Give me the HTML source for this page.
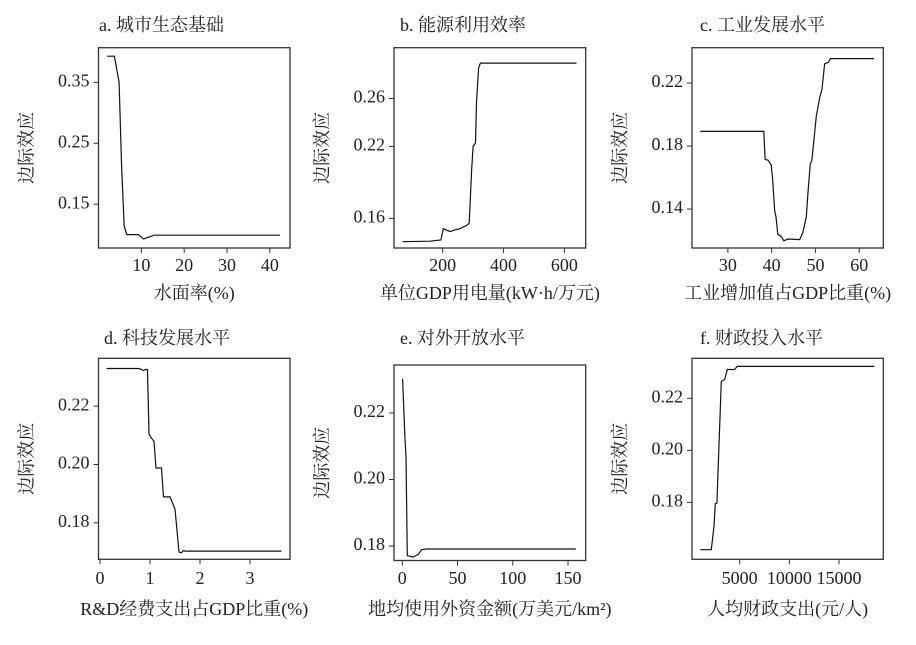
<!DOCTYPE html>
<html><head><meta charset="utf-8"><style>
body{margin:0;background:#fff;width:916px;height:640px;overflow:hidden}
svg text{font-family:"Liberation Serif","Noto Serif CJK SC",serif;fill:#222}
</style></head><body>
<svg id="chart" width="916" height="640" viewBox="0 0 916 640" xmlns="http://www.w3.org/2000/svg"></svg>
<script>
// Panel a
const aX=[2.0,3.7,4.3,4.8,5.4,6.0,6.6,8,9.3,10.5,13,42.4];
const aY=[0.393,0.393,0.37,0.35,0.212,0.114,0.100,0.100,0.100,0.093,0.099,0.099];
const aXTicks=[10,20,30,40];
const aYTicks=[0.15,0.25,0.35];
// Panel b
const bX=[68,158,194,202,224,246,250,278,287,295,300,308,311,318,324,640];
const bY=[0.1406,0.141,0.142,0.1514,0.149,0.151,0.1508,0.154,0.156,0.2,0.22,0.223,0.2567,0.2853,0.2895,0.2895];
const bXTicks=[200,400,600];
const bYTicks=[0.16,0.22,0.26];
// Panel c
const cX=[23.7,38.2,38.5,39.15,39.9,40.2,40.7,41,41.4,42.2,42.8,43.7,46.4,47.1,47.9,48.3,48.8,49.2,50.2,51.0,51.5,52.1,53.0,53.4,63.4];
const cY=[0.1893,0.1893,0.1715,0.171,0.168,0.16,0.1388,0.135,0.1239,0.1226,0.1199,0.121,0.1206,0.125,0.135,0.1507,0.1683,0.171,0.199,0.211,0.216,0.2321,0.2332,0.2355,0.2355];
const cXTicks=[30,40,50,60];
const cYTicks=[0.14,0.18,0.22];
// Panel d
const dX=[0.13,0.77,0.83,0.87,0.91,0.95,0.98,1.03,1.08,1.12,1.23,1.27,1.4,1.5,1.58,1.62,1.67,1.7,3.63];
const dY=[0.2329,0.2329,0.2326,0.2322,0.2326,0.2325,0.2104,0.209,0.208,0.1988,0.1988,0.1889,0.1889,0.1847,0.170,0.1697,0.1705,0.1703,0.1703];
const dXTicks=[0,1,2,3];
const dYTicks=[0.18,0.20,0.22];
// Panel e
const eX=[0.3,2.4,3.4,4.5,10,14.5,17.5,22,157];
const eY=[0.2303,0.2128,0.2068,0.1771,0.1767,0.1775,0.1789,0.1791,0.1791];
const eXTicks=[0,50,100,150];
const eYTicks=[0.18,0.20,0.22];
// Panel f
const fX=[1040,2140,2410,2550,2710,3150,3480,3750,4490,4760,18560];
const fY=[0.1618,0.1618,0.1708,0.1795,0.1797,0.2265,0.2272,0.2311,0.2311,0.2323,0.2323];
const fXTicks=[5000,10000,15000];
const fYTicks=[0.18,0.20,0.22];

const NS="http://www.w3.org/2000/svg";
const svg=document.getElementById('chart');
function mk(tag,attrs,parent){const e=document.createElementNS(NS,tag);for(const k in attrs)e.setAttribute(k,attrs[k]);(parent||svg).appendChild(e);return e;}

const panels=[
 {id:'a',title:'a. 城市生态基础',xl:'水面率(%)',x0:98.5,x1:290,y0:47.7,y1:248,dx:[0,44.7],dy:[0.078,0.407],xs:aX,ys:aY,xt:aXTicks,yt:aYTicks,yf:2,tx:99,ty:27,xty:267,xly:295},
 {id:'b',title:'b. 能源利用效率',xl:'单位GDP用电量(kW·h/万元)',x0:394,x1:585.7,y0:47.7,y1:248,dx:[40,670],dy:[0.13535,0.30235],xs:bX,ys:bY,xt:bXTicks,yt:bYTicks,yf:2,tx:400,ty:27,xty:267,xly:295},
 {id:'c',title:'c. 工业发展水平',xl:'工业增加值占GDP比重(%)',x0:692,x1:883.3,y0:47.7,y1:248,dx:[21.8,65.5],dy:[0.1153,0.2424],xs:cX,ys:cY,xt:cXTicks,yt:cYTicks,yf:2,tx:700,ty:27,xty:267,xly:295},
 {id:'d',title:'d. 科技发展水平',xl:'R&D经费支出占GDP比重(%)',x0:98.5,x1:290,y0:358.3,y1:559.3,dx:[-0.03,3.8],dy:[0.1675,0.2364],xs:dX,ys:dY,xt:dXTicks,yt:dYTicks,yf:2,tx:104,ty:340,xty:580,xly:611},
 {id:'e',title:'e. 对外开放水平',xl:'地均使用外资金额(万美元/km²)',x0:394,x1:585.7,y0:365,y1:560.5,dx:[-7.5,166],dy:[0.17565,0.23444],xs:eX,ys:eY,xt:eXTicks,yt:eYTicks,yf:2,tx:400,ty:340,xty:580,xly:611},
 {id:'f',title:'f. 财政投入水平',xl:'人均财政支出(元/人)',x0:692,x1:883.3,y0:358.3,y1:559.3,dx:[200,19460],dy:[0.1581,0.2354],xs:fX,ys:fY,xt:fXTicks,yt:fYTicks,yf:2,tx:700,ty:340,xty:580,xly:611}
];

panels.forEach(p=>{
 const g=mk('g',{});
 
 
 const sx=v=>p.x0+(v-p.dx[0])/(p.dx[1]-p.dx[0])*(p.x1-p.x0);
 const sy=v=>p.y1-(v-p.dy[0])/(p.dy[1]-p.dy[0])*(p.y1-p.y0);
 const t=mk('text',{x:p.tx,y:p.ty,'font-size':18,'dominant-baseline':'middle'},g);
 t.textContent=p.title;
 
 
 const r=mk('rect',{x:p.x0,y:p.y0,width:p.x1-p.x0,height:p.y1-p.y0,fill:'none',stroke:'#333','stroke-width':1.3},g);
 
 
 p.xt.forEach(v=>{
  const x=sx(v);
  mk('line',{x1:x,x2:x,y1:p.y1,y2:p.y1+5,stroke:'#333','stroke-width':1},g);
  const tt=mk('text',{x:x,y:p.xty,'font-size':18,'text-anchor':'middle','dominant-baseline':'middle'},g);
  tt.textContent=v;
  
  
 });
 p.yt.forEach(v=>{
  const y=sy(v);
  mk('line',{x1:p.x0-5,x2:p.x0,y1:y,y2:y,stroke:'#333','stroke-width':1},g);
  const tt=mk('text',{x:p.x0-9,y:y,'font-size':18,'text-anchor':'end','dominant-baseline':'middle'},g);
  tt.textContent=v.toFixed(p.yf);
  
  
 });
 const xl=mk('text',{x:(p.x0+p.x1)/2,y:p.xly,'font-size':18,'text-anchor':'middle','dominant-baseline':'middle'},g);
 xl.textContent=p.xl;
 
 
 const yc=(p.y0+p.y1)/2, ylx=p.x0-70;
 const yl=mk('text',{x:ylx,y:yc,'font-size':18,'text-anchor':'middle','dominant-baseline':'middle',transform:'rotate(-90 '+ylx+' '+yc+')'},g);
 yl.textContent='边际效应';
 
 
 const pts=p.xs.map((v,i)=>sx(v).toFixed(1)+','+sy(p.ys[i]).toFixed(1)).join(' ');
 const pl=mk('polyline',{points:pts,fill:'none',stroke:'#111','stroke-width':1.2},g);
 
 
});
</script>
</body></html>
